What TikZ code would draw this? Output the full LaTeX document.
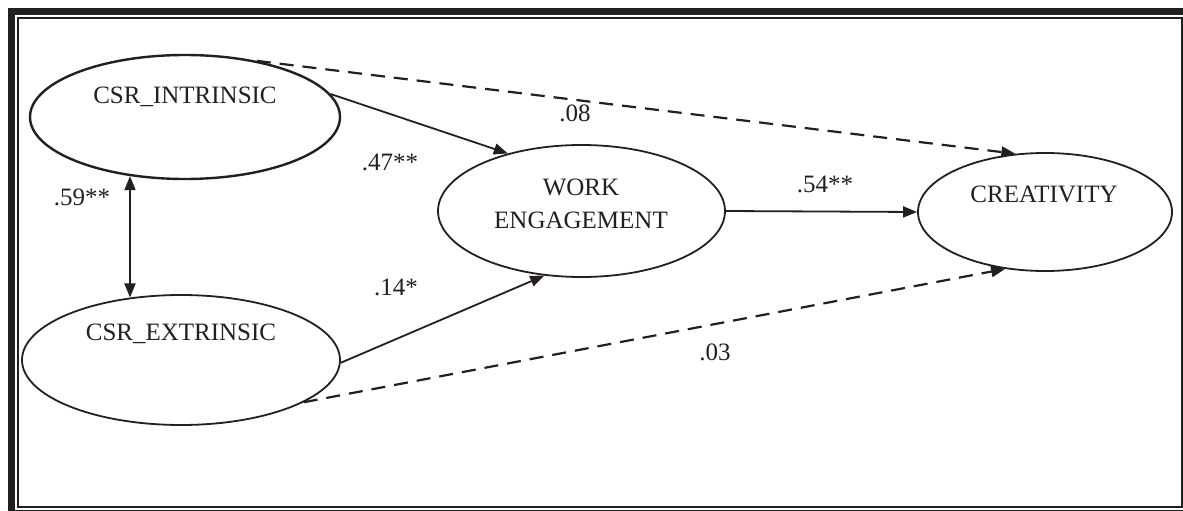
\documentclass[tikz,border=0pt]{standalone}
\usepackage{fontspec}
\setmainfont{Liberation Serif}
\usetikzlibrary{shapes.geometric,arrows.meta}
\definecolor{ink}{HTML}{231F20}
\begin{document}
\begin{tikzpicture}[x=1pt,y=-1pt,
  latent/.style={draw=ink, ellipse, inner sep=0pt, line width=1.8pt},
  lbl/.style={anchor=base, inner sep=0pt, font=\fontsize{25}{30}\selectfont, text=ink},
  effect/.style={draw=ink, line width=1.8pt, -{Triangle[length=14pt,width=11pt]}},
  nseffect/.style={effect, line width=2.2pt, dash pattern=on 14pt off 9pt},
]
\useasboundingbox (0,0) rectangle (1183,511);
% double frame
\draw[ink, line width=7pt] (11.5,11.5) rectangle (1188.5,513.5);
\draw[ink, line width=2pt] (18,18) rectangle (1182,507);

% latent variables
\node[latent, line width=2.4pt, minimum width=310pt, minimum height=124pt] (ci) at (185,117) {};
\node[latent, minimum width=318pt, minimum height=130pt] (ce) at (181,360) {};
\node[latent, minimum width=287pt, minimum height=132pt] (we) at (581.5,211) {};
\node[latent, minimum width=254pt, minimum height=118pt] (cr) at (1045,212) {};

% variable names
\node[lbl] (tci) at (185,103) {CSR\_INTRINSIC};
\node[lbl] (tce) at (181,340) {CSR\_EXTRINSIC};
\node[lbl] (twe1) at (581,195) {WORK};
\node[lbl] (twe2) at (581,228) {ENGAGEMENT};
\node[lbl] (tcr) at (1044,202) {CREATIVITY};

% paths
\draw[effect] (ci.9.9) -- (we.142.2);
\draw[effect] (ce.-1.1) -- (we.-120.5);
\draw[effect] (we.east) -- (cr.west);
\draw[nseffect] (ci.38.7) -- (cr.117.8);
\draw[nseffect] (ce.-19) -- (cr.-125);

% correlation
\coordinate (vx) at (130,0);
\draw[draw=ink, line width=1.8pt, {Triangle[length=14pt,width=11pt]}-{Triangle[length=14pt,width=11pt]}]
  (vx |- ci.-133.5) -- (vx |- ce.129.4);

% coefficients
\node[lbl] (k59) at (82,205) {.59**};
\node[lbl] (k47) at (390,170) {.47**};
\node[lbl] (k14) at (396,295) {.14*};
\node[lbl] (k54) at (825,192) {.54**};
\node[lbl] (k08) at (575,121) {.08};
\node[lbl] (k03) at (715,360) {.03};
\end{tikzpicture}
\end{document}
